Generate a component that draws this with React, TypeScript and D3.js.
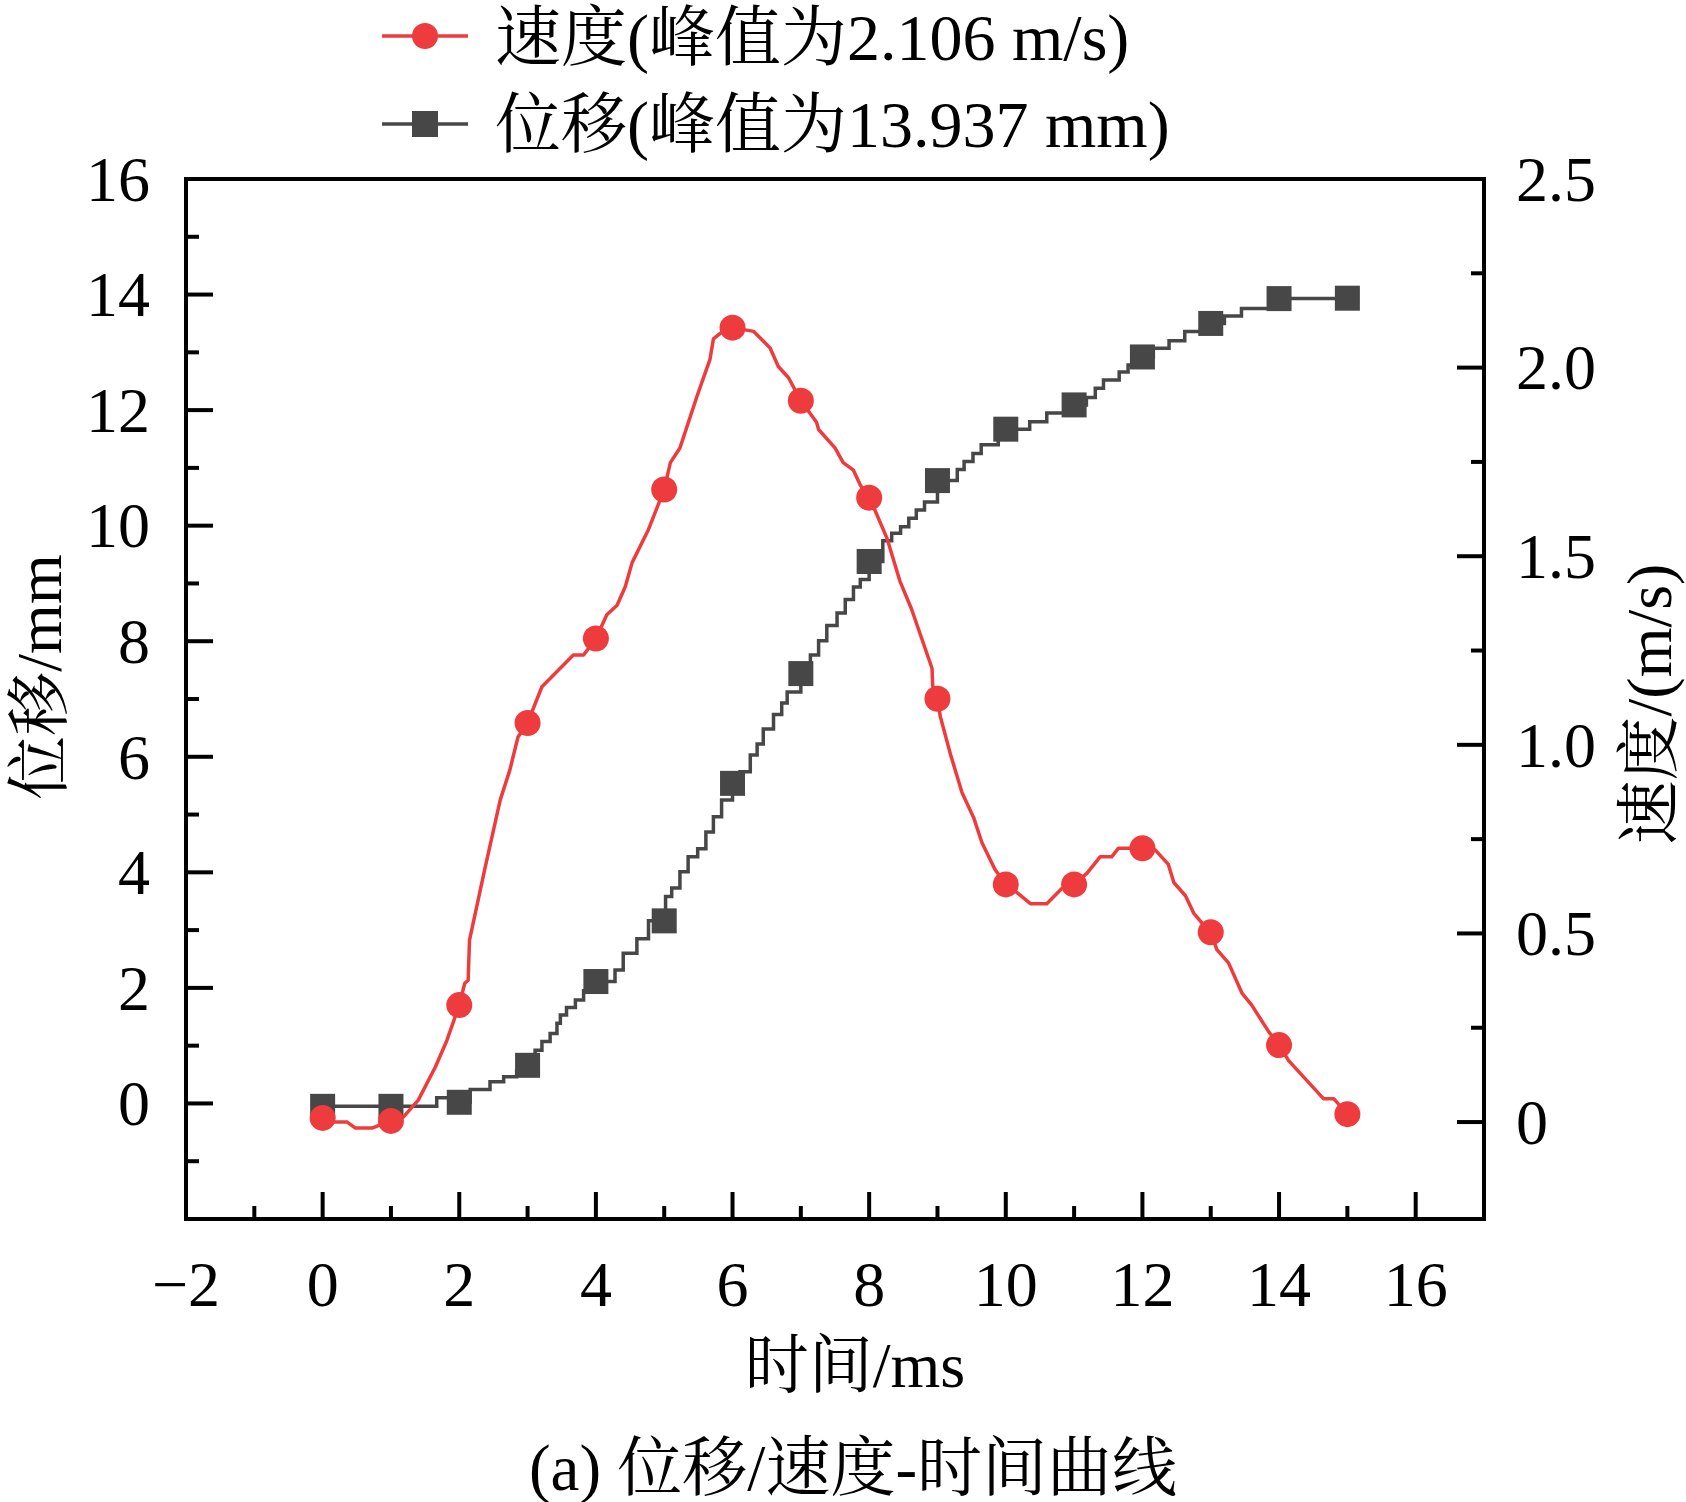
import React from 'react';
import * as d3 from 'd3';

// ---- data ----
const velocityTime = [0, 0.15, 0.36, 0.48, 0.72, 1, 1.18, 1.4, 1.65, 1.82, 2, 2.08, 2.13, 2.15, 2.38, 2.6, 2.74, 2.86, 3, 3.21, 3.67, 3.82, 4, 4.16, 4.31, 4.43, 4.53, 4.77, 5, 5.09, 5.23, 5.48, 5.67, 5.72, 5.82, 6, 6.31, 6.55, 6.67, 6.82, 7, 7.23, 7.26, 7.5, 7.62, 7.77, 7.87, 8, 8.09, 8.26, 8.45, 8.62, 8.92, 8.93, 9, 9.04, 9.19, 9.36, 9.53, 9.65, 9.84, 10, 10.16, 10.36, 10.6, 10.82, 11, 11.19, 11.38, 11.55, 11.65, 12, 12.19, 12.38, 12.46, 12.63, 12.75, 12.87, 13, 13.09, 13.26, 13.46, 13.6, 13.85, 14, 14.14, 14.65, 14.8, 15];
const velocityValue = [0.011, 0.0, 0.0, -0.016, -0.016, 0.003, 0.013, 0.058, 0.146, 0.217, 0.31, 0.368, 0.376, 0.482, 0.676, 0.854, 0.933, 1.021, 1.058, 1.154, 1.238, 1.238, 1.282, 1.345, 1.37, 1.419, 1.483, 1.571, 1.677, 1.748, 1.787, 1.924, 2.022, 2.076, 2.091, 2.106, 2.096, 2.052, 2.003, 1.973, 1.912, 1.855, 1.836, 1.787, 1.748, 1.728, 1.689, 1.655, 1.62, 1.548, 1.434, 1.36, 1.203, 1.157, 1.122, 1.076, 0.975, 0.873, 0.807, 0.741, 0.67, 0.63, 0.609, 0.579, 0.579, 0.619, 0.63, 0.66, 0.703, 0.703, 0.726, 0.726, 0.721, 0.683, 0.635, 0.6, 0.554, 0.528, 0.503, 0.457, 0.422, 0.341, 0.31, 0.239, 0.204, 0.163, 0.062, 0.062, 0.021];

const displacementTime = [0, 1, 1.67, 2, 2.16, 2.45, 2.65, 2.84, 3, 3.11, 3.21, 3.33, 3.43, 3.48, 3.57, 3.7, 3.82, 4, 4.28, 4.4, 4.6, 4.77, 5, 5.02, 5.11, 5.23, 5.35, 5.49, 5.61, 5.72, 5.84, 6, 6.11, 6.26, 6.36, 6.45, 6.6, 6.72, 6.8, 7, 7.14, 7.26, 7.38, 7.53, 7.65, 7.77, 7.87, 8, 8.2, 8.33, 8.46, 8.58, 8.69, 8.81, 9, 9.29, 9.39, 9.52, 9.64, 9.89, 10, 10.35, 10.6, 11, 11.18, 11.31, 11.43, 11.66, 11.79, 12, 12.16, 12.39, 12.62, 13, 13.2, 13.45, 14, 15];
const displacementValue = [-0.05, -0.05, 0.1, 0.02, 0.24, 0.375, 0.46, 0.56, 0.66, 0.92, 1.07, 1.21, 1.39, 1.53, 1.66, 1.79, 1.95, 2.11, 2.31, 2.6, 2.85, 3.16, 3.16, 3.58, 3.73, 4.01, 4.27, 4.41, 4.7, 4.96, 5.25, 5.54, 5.74, 6.03, 6.22, 6.48, 6.73, 6.93, 7.12, 7.44, 7.76, 8.01, 8.27, 8.49, 8.72, 8.94, 9.07, 9.38, 9.74, 9.87, 9.98, 10.13, 10.27, 10.41, 10.78, 10.97, 11.11, 11.25, 11.4, 11.55, 11.67, 11.8, 11.95, 12.09, 12.22, 12.38, 12.52, 12.66, 12.78, 12.92, 13.07, 13.2, 13.36, 13.5, 13.63, 13.76, 13.93, 13.937];

const xTicks = [-2, 0, 2, 4, 6, 8, 10, 12, 14, 16];
const xMinorTicks = [-1, 1, 3, 5, 7, 9, 11, 13, 15];
const leftTicks = [0, 2, 4, 6, 8, 10, 12, 14, 16];
const leftMinorTicks = [-1, 1, 3, 5, 7, 9, 11, 13, 15];
const rightTicks = [0, 0.5, 1.0, 1.5, 2.0, 2.5];
const rightTickLabels = ['0', '0.5', '1.0', '1.5', '2.0', '2.5'];
const rightMinorTicks = [0.25, 0.75, 1.25, 1.75, 2.25];
const legendLabels = ['速度(峰值为2.106 m/s)', '位移(峰值为13.937 mm)'];
const xTitle = '时间/ms';
const leftTitle = '位移/mm';
const rightTitle = '速度/(m/s)';
const caption = '(a) 位移/速度-时间曲线';

const FONT = "'Liberation Serif','Times New Roman','Noto Serif CJK SC','Noto Sans CJK SC',serif";
const RED = '#EE3B3D';
const GRAY = '#474747';

const W = 1686, H = 1502;
const L = 186, R = 1484, T = 179, B = 1219;

export default function App() {
  const x = d3.scaleLinear().domain([-2, 17]).range([L, R]);
  const yL = d3.scaleLinear().domain([-2, 16]).range([B, T]);
  const yR = d3.scaleLinear().domain([-0.257, 2.5]).range([B, T]);

  const vel = velocityTime.map((t, i) => ({ t, v: velocityValue[i] }));
  const disp = displacementTime.map((t, i) => ({ t, v: displacementValue[i] }));

  const velLine = d3.line<{ t: number; v: number }>().x(d => x(d.t)).y(d => yR(d.v)).curve(d3.curveLinear);
  const dispLine = d3.line<{ t: number; v: number }>().x(d => x(d.t)).y(d => yL(d.v)).curve(d3.curveStepAfter);

  const velMarks = vel.filter(d => Number.isInteger(d.t));
  const dispMarks = disp.filter(d => Number.isInteger(d.t));

  const MAJ = 27, MIN = 13, FS = 64;
  const sq = 25;

  return (
    <svg width={W} height={H} style={{ position: 'absolute', left: 0, top: 0, background: '#fff' }} fontFamily={FONT}>
      <rect x={0} y={0} width={W} height={H} fill="#fff" />
      {/* legend */}
      <g>
        <line x1={382} x2={468} y1={36} y2={36} stroke={RED} strokeWidth={3.5} />
        <circle cx={425} cy={36} r={13} fill={RED} />
        <text x={495} y={60} fontSize={66} fill="#000">{legendLabels[0]}</text>
        <line x1={382} x2={468} y1={124} y2={124} stroke={GRAY} strokeWidth={3.5} />
        <rect x={425 - 13} y={124 - 13} width={26} height={26} fill={GRAY} />
        <text x={495} y={147} fontSize={66} fill="#000">{legendLabels[1]}</text>
      </g>

      {/* series */}
      <path d={dispLine(disp) || ''} fill="none" stroke={GRAY} strokeWidth={3.5} />
      {dispMarks.map((d, i) => (
        <rect key={'s' + i} x={x(d.t) - sq / 2} y={yL(d.v) - sq / 2} width={sq} height={sq} fill={GRAY} />
      ))}
      <path d={velLine(vel) || ''} fill="none" stroke={RED} strokeWidth={3.5} strokeLinejoin="round" />
      {velMarks.map((d, i) => (
        <circle key={'c' + i} cx={x(d.t)} cy={yR(d.v)} r={13} fill={RED} />
      ))}

      {/* ticks */}
      <g stroke="#000" strokeWidth={4}>
        {xTicks.filter(t => t > -2).map(t => (
          <line key={'xt' + t} x1={x(t)} x2={x(t)} y1={B} y2={B - MAJ} />
        ))}
        {xMinorTicks.map(t => (
          <line key={'xm' + t} x1={x(t)} x2={x(t)} y1={B} y2={B - MIN} />
        ))}
        {leftTicks.filter(t => t < 16).map(t => (
          <line key={'lt' + t} x1={L} x2={L + MAJ} y1={yL(t)} y2={yL(t)} />
        ))}
        {leftMinorTicks.map(t => (
          <line key={'lm' + t} x1={L} x2={L + MIN} y1={yL(t)} y2={yL(t)} />
        ))}
        {rightTicks.filter(t => t < 2.5).map(t => (
          <line key={'rt' + t} x1={R} x2={R - MAJ} y1={yR(t)} y2={yR(t)} />
        ))}
        {rightMinorTicks.map(t => (
          <line key={'rm' + t} x1={R} x2={R - MIN} y1={yR(t)} y2={yR(t)} />
        ))}
      </g>
      {/* frame */}
      <rect x={L} y={T} width={R - L} height={B - T} fill="none" stroke="#000" strokeWidth={4} />

      {/* tick labels */}
      <g fontSize={FS} fill="#000">
        {xTicks.map(t => (
          <text key={'xl' + t} x={x(t)} y={1306} textAnchor="middle">{t < 0 ? '\u2212' + Math.abs(t) : String(t)}</text>
        ))}
        {leftTicks.map(t => (
          <text key={'ll' + t} x={150} y={yL(t)} dy="0.34em" textAnchor="end">{String(t)}</text>
        ))}
        {rightTicks.map((t, i) => (
          <text key={'rl' + t} x={1516} y={yR(t)} dy="0.34em" textAnchor="start">{rightTickLabels[i]}</text>
        ))}
      </g>

      {/* titles */}
      <text x={855} y={1387} fontSize={64} textAnchor="middle">{xTitle}</text>
      <text transform="translate(61,677) rotate(-90)" fontSize={64} textAnchor="middle">{leftTitle}</text>
      <text transform="translate(1671,704) rotate(-90)" fontSize={64} textAnchor="middle">{rightTitle}</text>
      <text x={853} y={1490} fontSize={65} textAnchor="middle">{caption}</text>
    </svg>
  );
}
